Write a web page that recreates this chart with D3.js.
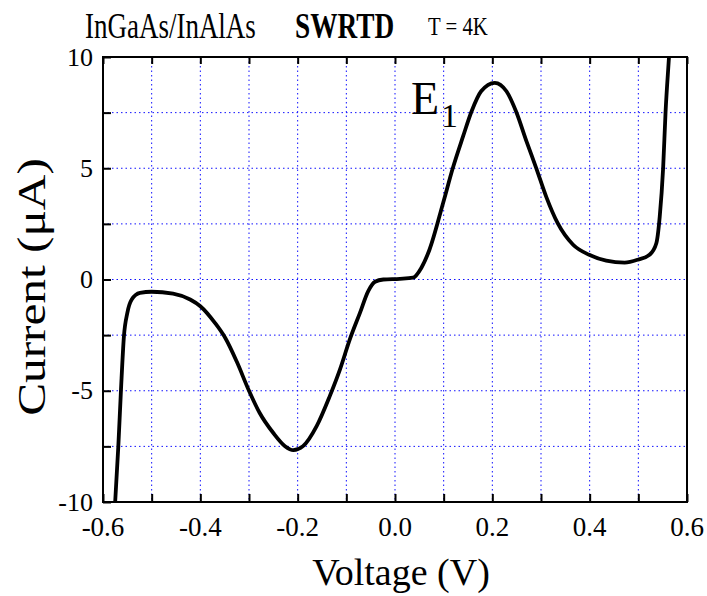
<!DOCTYPE html>
<html><head><meta charset="utf-8">
<script src="https://cdn.jsdelivr.net/npm/d3@7"></script>
<style>body{margin:0;background:#fff}svg{display:block}svg text{font-family:"Liberation Serif",serif;fill:#000}</style>
</head><body><svg id="c" width="707" height="596" font-family="Liberation Serif"></svg>
<script>
const voltage = [-0.575,-0.5685,-0.563,-0.557,-0.550,-0.541,-0.524,-0.500,-0.456,-0.421,-0.400,-0.370,-0.349,-0.325,-0.300,-0.278,-0.250,-0.226,-0.209,-0.189,-0.161,-0.134,-0.113,-0.093,-0.072,-0.055,-0.041,-0.024,0.010,0.037,0.054,0.071,0.099,0.119,0.140,0.157,0.177,0.205,0.229,0.249,0.270,0.290,0.311,0.334,0.366,0.399,0.434,0.472,0.499,0.523,0.537,0.544,0.551,0.556,0.563,0.57];
const current = [-10,-7.49,-4.94,-2.55,-1.50,-0.90,-0.60,-0.55,-0.63,-0.90,-1.20,-1.95,-2.62,-3.70,-5.0,-6.0,-6.9,-7.49,-7.67,-7.49,-6.59,-5.24,-4.04,-2.70,-1.50,-0.52,-0.10,0.0,0.03,0.08,0.52,1.35,3.45,5.02,6.44,7.54,8.46,8.84,8.46,7.54,6.22,5.02,3.70,2.54,1.56,1.11,0.85,0.76,0.89,1.11,1.63,2.83,5.03,7.55,10.0,12.5];
const xTickLabels = [-0.6,-0.4,-0.2,0.0,0.2,0.4,0.6];
const yTickLabels = [-10,-5,0,5,10];
const xGrid = d3.range(-5,6).map(d=>d/10);
const yGrid = [-7.5,-5,-2.5,0,2.5,5,7.5];

const svg = d3.select("#c");
const FF = "Liberation Serif";
const L=103, T=57, R=687, B=502;
const x = d3.scaleLinear().domain([-0.6,0.6]).range([L,R]);
const y = d3.scaleLinear().domain([-10,10]).range([B,T]);

// grid
svg.append("g").selectAll("line").data(xGrid).join("line")
  .attr("x1",d=>x(d)).attr("x2",d=>x(d)).attr("y1",T).attr("y2",B)
  .attr("stroke","#1010ff").attr("stroke-width",1).attr("stroke-dasharray","1.5,3");
svg.append("g").selectAll("line").data(yGrid).join("line")
  .attr("y1",d=>y(d)).attr("y2",d=>y(d)).attr("x1",L).attr("x2",R)
  .attr("stroke","#1010ff").attr("stroke-width",1).attr("stroke-dasharray","1.5,3");

// curve
svg.append("clipPath").attr("id","clip").append("rect").attr("x",L).attr("y",T).attr("width",R-L).attr("height",B-T);
const line = d3.line().x((d,i)=>x(voltage[i])).y((d,i)=>y(current[i])).curve(d3.curveMonotoneX);
svg.append("path").attr("d",line(voltage)).attr("clip-path","url(#clip)")
  .attr("fill","none").attr("stroke","#000").attr("stroke-width",3.8).attr("stroke-linejoin","round");

// axes
const tickLen = 8;
const xb = svg.append("g").attr("transform",`translate(0,${B})`)
  .call(d3.axisBottom(x).tickValues(d3.range(-6,7).map(d=>d/10)).tickSizeInner(-tickLen).tickSizeOuter(0).tickFormat(""));
const xt = svg.append("g").attr("transform",`translate(0,${T})`)
  .call(d3.axisTop(x).tickValues(d3.range(-6,7).map(d=>d/10)).tickSizeInner(-7).tickSizeOuter(0).tickFormat(""));
const yl = svg.append("g").attr("transform",`translate(${L},0)`)
  .call(d3.axisLeft(y).tickValues(d3.range(-4,5).map(d=>d*2.5)).tickSizeInner(-tickLen).tickSizeOuter(0).tickFormat(""));
[xb,xt,yl].forEach(g=>{g.selectAll("line").attr("stroke","#000").attr("stroke-width",2);g.select(".domain").remove();});
svg.append("rect").attr("x",L).attr("y",T).attr("width",R-L).attr("height",B-T)
  .attr("fill","none").attr("stroke","#000").attr("stroke-width",2);

// tick labels
svg.append("g").selectAll("text").data(xTickLabels).join("text")
  .attr("font-family",FF)
  .attr("x",d=>x(d)).attr("y",536).attr("text-anchor","middle").attr("font-size",27)
  .text(d=>d.toFixed(1));
svg.append("g").selectAll("text").data(yTickLabels).join("text")
  .attr("font-family",FF)
  .attr("x",93).attr("y",d=>y(d)+8.5).attr("text-anchor","end").attr("font-size",26)
  .text(d=>d);

// titles
svg.append("text").attr("font-family",FF).attr("transform","translate(85,38) scale(0.75,1)").attr("font-size",36).text("InGaAs/InAlAs");
svg.append("text").attr("font-family",FF).attr("transform","translate(295,38) scale(0.78,1)").attr("font-size",35).attr("font-weight","bold").text("SWRTD");
svg.append("text").attr("font-family",FF).attr("transform","translate(428,35) scale(0.8,1)").attr("font-size",26).text("T = 4K");

// E1
svg.append("text").attr("font-family",FF).attr("x",411).attr("y",113.5).attr("font-size",46).text("E");
svg.append("text").attr("font-family",FF).attr("x",441).attr("y",127).attr("font-size",34).text("1");

// axis titles
svg.append("text").attr("font-family",FF).attr("x",401).attr("y",585).attr("text-anchor","middle").attr("font-size",38).text("Voltage (V)");
svg.append("text").attr("font-family",FF).attr("transform","translate(45,287) rotate(-90) scale(1.12,0.9)").attr("text-anchor","middle").attr("font-size",44).text("Current (μA)");
</script></body></html>
